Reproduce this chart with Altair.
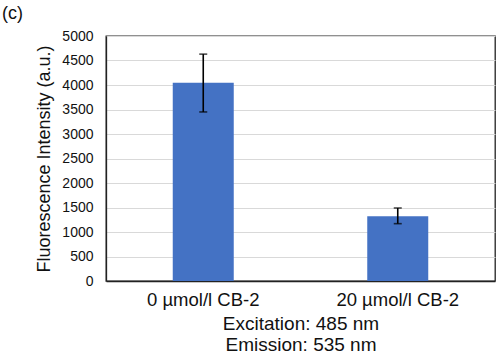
import altair as alt
import pandas as pd

categories = ["0 µmol/l CB-2", "20 µmol/l CB-2"]
means = [4045, 1320]
err_low = [3450, 1170]
err_high = [4630, 1490]

df = pd.DataFrame({"cat": categories, "mean": means, "lo": err_low, "hi": err_high})

FONT = "Liberation Sans"

x_axis = alt.Axis(title=["Excitation: 485 nm", "Emission: 535 nm"],
                  labelAngle=0, labelFontSize=18.5, labelPadding=9,
                  titleFontSize=19, titlePadding=6, titleLineHeight=21,
                  grid=False)
x_scale = alt.Scale(paddingInner=0.0, paddingOuter=0.0)

def X():
    return alt.X("cat:N", sort=categories, scale=x_scale, axis=x_axis)

y_scale = alt.Scale(domain=[0, 5000])
y_axis = alt.Axis(title="Fluorescence Intensity (a.u.)", values=list(range(0, 5001, 500)),
                  format="d", labelFontSize=14, labelPadding=13,
                  titleFontSize=18, titlePadding=8,
                  gridColor="#d9d9d9", gridWidth=1.2)

def Y(field):
    return alt.Y(field, scale=y_scale, axis=y_axis, title="Fluorescence Intensity (a.u.)")

base = alt.Chart(df)

bars = base.mark_bar(color="#4472C4", size=61).encode(x=X(), y=Y("mean:Q"))

rule = base.mark_rule(color="black", strokeWidth=1.6).encode(
    x=X(), y=Y("lo:Q"), y2="hi:Q")
cap_lo = base.mark_tick(color="black", size=8, thickness=1.6).encode(x=X(), y=Y("lo:Q"))
cap_hi = base.mark_tick(color="black", size=8, thickness=1.6).encode(x=X(), y=Y("hi:Q"))

label = alt.Chart(pd.DataFrame({"t": ["(c)"]})).mark_text(
    font=FONT, fontSize=18, color="#111", align="left", baseline="middle"
).encode(text="t:N", x=alt.value(-104), y=alt.value(-22))

chart = alt.layer(bars, rule, cap_lo, cap_hi, label).properties(
    width=389, height=245,
    autosize=alt.AutoSizeParams(type="none"),
    padding={"left": 106, "top": 36, "right": 5, "bottom": 76},
    background="white",
).configure_view(stroke="#222", strokeWidth=1.3).configure_axis(
    labelFont=FONT, titleFont=FONT, labelColor="#111", titleColor="#111",
    titleFontWeight="normal", ticks=False, domainColor="#222", domainWidth=1.3,
    gridColor="#d9d9d9",
)

chart.save("out.html", embed_options={"renderer": "svg", "actions": False})
